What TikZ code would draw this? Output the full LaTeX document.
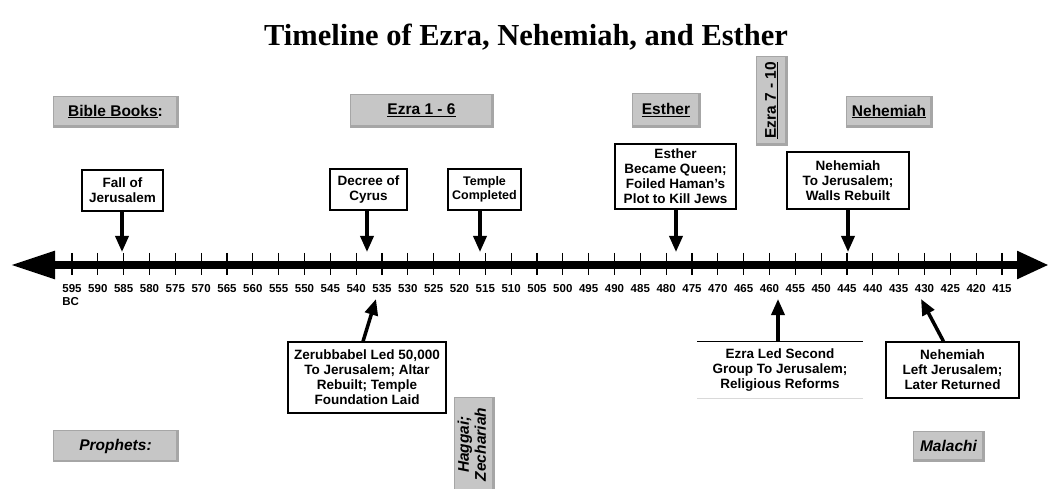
\documentclass[tikz,border=0pt]{standalone}
\usepackage{fontspec}
\setmainfont{Liberation Sans}
\newfontfamily\titlefont{Liberation Serif}
\usetikzlibrary{positioning,arrows.meta}

\begin{document}
\begin{tikzpicture}[
  x=1pt, y=-1pt,
  font=\bfseries,
  hdr/.style={draw=gray!70, fill=gray!45, line width=0.8pt, inner sep=0pt,
    font=\fontsize{15.5}{17}\selectfont\bfseries,
    path picture={\draw[line width=3.5pt] (path picture bounding box.north east) -- (path picture bounding box.south east) -- (path picture bounding box.south west);}},
  prop/.style={hdr, font=\fontsize{15.5}{17}\selectfont\bfseries\itshape},
  evt/.style={draw, line width=1.2pt, fill=white, align=center, inner sep=0pt, font=\fontsize{13.5}{15}\selectfont\bfseries},
  yr/.style={font=\fontsize{11.5}{12}\selectfont\bfseries, inner sep=1pt},
  tk/.style={line width=1.3pt},
  arr/.style={-{Triangle[width=13pt,length=16pt]}, line width=3.5pt},
  axis/.style={{Triangle[width=26pt,length=45pt]}-{Triangle[width=26pt,length=32pt]}, line width=8.5pt}
]
\useasboundingbox (0,0) rectangle (1050,489);

% Titlu
\node[font=\titlefont\fontsize{30.5}{32}\selectfont\bfseries] (title) at (526,37) {Timeline of Ezra, Nehemiah, and Esther};

% Axa timpului
\coordinate (axL) at (10,265);
\coordinate (axR) at (1049,265);
\draw[axis] (axL) -- (axR);
\foreach \i in {0,...,36}{
  \pgfmathtruncatemacro{\yy}{595-5*\i}
  \draw[tk] ({72+\i*25.8333},253) -- ({72+\i*25.8333},275);
  \node[yr] (t\yy) at ({72+\i*25.8333},289) {\yy};
}
\node[yr, anchor=north west, yshift=-2pt] (bc) at (t595.south west) {BC};

% Carti (sus)
\node[hdr, minimum width=125pt, minimum height=31pt] (bible) at (115.5,111.5) {\underline{Bible Books}:};
\node[hdr, minimum width=143pt, minimum height=33pt] (ezraA) at (421.5,110.5) {\underline{Ezra 1 - 6}};
\node[hdr, minimum width=68pt, minimum height=34pt] (estherB) at (666,110) {\underline{Esther}};
\node[hdr, minimum width=31pt, minimum height=89pt] (ezraB) at (771.5,100.5) {\rotatebox{90}{\underline{Ezra 7 - 10}}};
\node[hdr, minimum width=86pt, minimum height=31pt] (nehB) at (889,111.5) {\underline{Nehemiah}};

% Profeti (jos)
\node[prop, minimum width=125pt, minimum height=31pt, below=303pt of bible] (prophets) {Prophets:};
\node[prop, minimum width=40pt, minimum height=95pt] (haggai) at (474,444.5) {\rotatebox{90}{\begin{tabular}{@{}c@{}}Haggai;\\Zechariah\end{tabular}}};
\node[prop, minimum width=71pt, minimum height=30pt] (malachi) at (948.5,446) {Malachi};

% Evenimente deasupra axei
\node[evt, minimum width=81pt, minimum height=41pt] (fall) at (122.5,190.5) {Fall of\\Jerusalem};
\node[evt, minimum width=77pt, minimum height=41pt] (cyrus) at (368.5,189.5) {Decree of\\Cyrus};
\node[evt, minimum width=73pt, minimum height=41pt, font=\fontsize{12.5}{14.5}\selectfont\bfseries] (temple) at (484.5,189.5) {Temple\\Completed};
\node[evt, minimum width=121pt, minimum height=65pt] (esther) at (675.5,176.5) {Esther\\Became Queen;\\Foiled Haman's\\Plot to Kill Jews};
\node[evt, minimum width=122pt, minimum height=57pt] (nehTo) at (848,180.5) {Nehemiah\\To Jerusalem;\\Walls Rebuilt};

% Evenimente sub axa
\node[evt, minimum width=158pt, minimum height=71pt] (zerub) at (367,377.5) {Zerubbabel Led 50,000\\To Jerusalem; Altar\\Rebuilt; Temple\\Foundation Laid};
\node[evt, draw=none, minimum width=164pt, minimum height=56pt] (ezraLed) at (780,370) {Ezra Led Second\\Group To Jerusalem;\\Religious Reforms};
\draw[line width=1.2pt] (ezraLed.north west) -- (ezraLed.north east);
\draw[gray!30] (ezraLed.south west) -- (ezraLed.south east);
\node[evt, minimum width=133pt, minimum height=56pt] (nehLeft) at (952.5,370) {Nehemiah\\Left Jerusalem;\\Later Returned};

% Sageti spre axa
\coordinate (fall-at) at (122,252);
\coordinate (cyrus-at) at (367,252);
\coordinate (temple-at) at (480,252);
\coordinate (esther-at) at (676,252);
\coordinate (nehTo-at) at (848,252);
\coordinate (zerub-at) at (376,299);
\coordinate (ezraLed-at) at (778,299);
\coordinate (nehLeft-at) at (921,299);

\draw[arr] (fall.south -| fall-at) -- (fall-at);
\draw[arr] (cyrus.south -| cyrus-at) -- (cyrus-at);
\draw[arr] (temple.south -| temple-at) -- (temple-at);
\draw[arr] (esther.south -| esther-at) -- (esther-at);
\draw[arr] (nehTo.south -| nehTo-at) -- (nehTo-at);
\draw[arr] ([xshift=-4pt]zerub.north) -- (zerub-at);
\draw[arr] (ezraLed.north -| ezraLed-at) -- (ezraLed-at);
\draw[arr] ([xshift=-9pt]nehLeft.north) -- (nehLeft-at);

\end{tikzpicture}
\end{document}
